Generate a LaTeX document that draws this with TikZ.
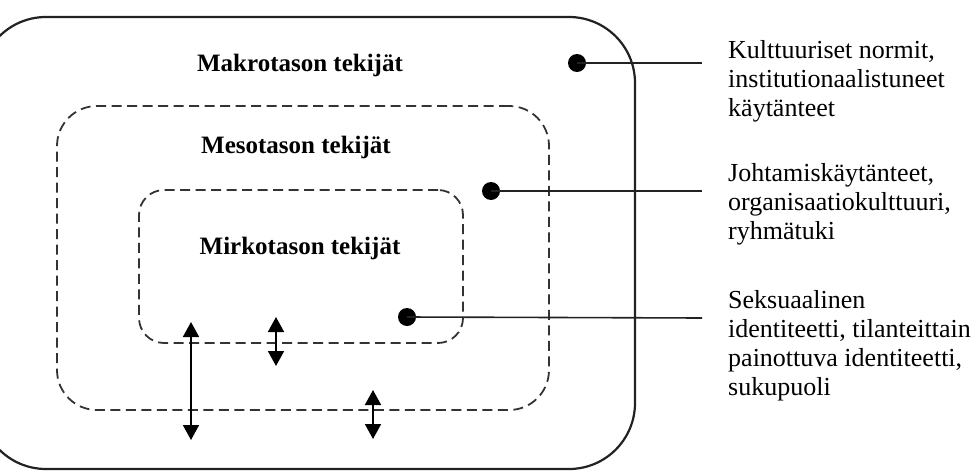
\documentclass[tikz,border=0pt]{standalone}
\usepackage{fontspec}
\setmainfont{Liberation Serif}
\usetikzlibrary{arrows.meta}

\definecolor{ink}{HTML}{222222}
\definecolor{dashink}{HTML}{333333}

\tikzset{
  levelbox/.style={draw=ink, line width=2.2pt, inner sep=0pt, minimum width=#1},
  dashbox/.style={draw=dashink, line width=1.8pt, dash pattern=on 10pt off 5.5pt, inner sep=0pt},
  levellabel/.style={font=\fontsize{25}{29}\selectfont\bfseries, anchor=base, inner sep=0pt},
  desc/.style={font=\fontsize{26}{29}\selectfont, align=left, anchor=north west, inner sep=0pt},
  dot/.style={circle, fill=black, inner sep=0pt, minimum size=18pt},
  leader/.style={draw=ink, line width=1.6pt},
  twoway/.style={line width=1.8pt, draw=black,
    {Triangle[width=16pt,length=15pt]}-{Triangle[width=16pt,length=15pt]}}
}

\begin{document}
\begin{tikzpicture}[x=1pt, y=-1pt]
  \useasboundingbox (0,0) rectangle (979,471);

  % nested levels
  \node[levelbox=655pt, minimum height=452pt, rounded corners=66pt] (macro) at (307.5,243) {};
  \node[dashbox, minimum width=492pt, minimum height=304pt, rounded corners=40pt] (meso) at (303,258) {};
  \node[dashbox, minimum width=324pt, minimum height=153pt, rounded corners=25pt] (micro) at (301,266.5) {};

  % level titles
  \node[levellabel] (tmacro) at (300,71) {Makrotason tekijät};
  \node[levellabel] (tmeso) at (296,153) {Mesotason tekijät};
  \node[levellabel] (tmicro) at (300,254) {Mirkotason tekijät};

  % markers and leader lines
  \node[dot] (d1) at (577,63) {};
  \node[dot] (d2) at (491,191) {};
  \node[dot] (d3) at (407,317) {};
  \coordinate (e1) at (702,63);
  \coordinate (e2) at (702,191);
  \coordinate (e3) at (702,318);
  \draw[leader] (d1.center) -- (e1);
  \draw[leader] (d2.center) -- (e2);
  \draw[leader] (d3.center) -- (e3);

  % descriptions
  \node[desc] (k1) at (728,40) {Kulttuuriset normit,\\institutionaalistuneet\\käytänteet};
  \node[desc] (k2) at (728,163) {Johtamiskäytänteet,\\organisaatiokulttuuri,\\ryhmätuki};
  \node[desc] (k3) at (728,290) {Seksuaalinen\\identiteetti, tilanteittain\\painottuva identiteetti,\\sukupuoli};

  % interaction arrows between levels
  \coordinate (a1t) at (191,322);
  \coordinate (a1b) at (191,440);
  \coordinate (a2t) at (276,317);
  \coordinate (a2b) at (276,366);
  \coordinate (a3t) at (373,390);
  \coordinate (a3b) at (373,439);
  \draw[twoway] (a1t) -- (a1b);
  \draw[twoway] (a2t) -- (a2b);
  \draw[twoway] (a3t) -- (a3b);
\end{tikzpicture}
\end{document}
